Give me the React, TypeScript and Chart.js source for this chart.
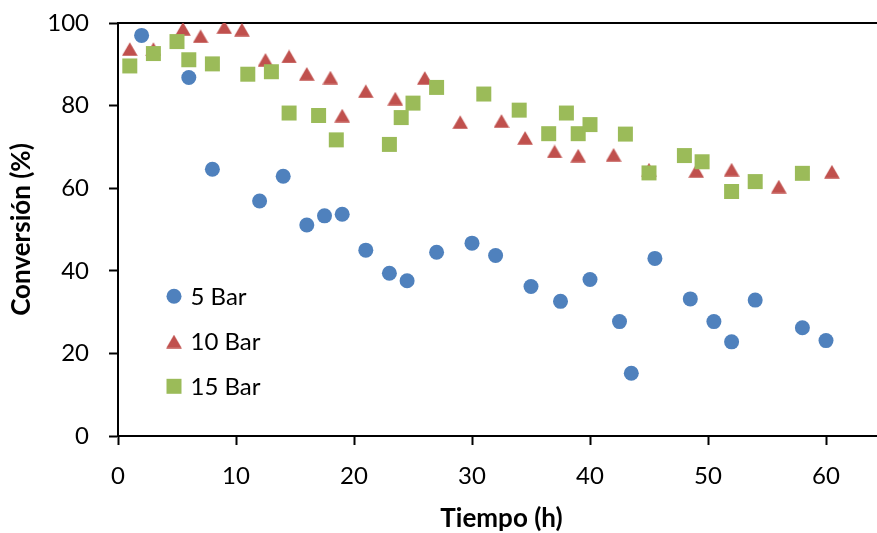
import React, { useEffect, useRef } from "react";
import { Chart, registerables } from "chart.js";
import { drawPoint } from "chart.js/helpers";

Chart.register(...registerables);

// ---- Data ----
const time5 = [2, 6, 8, 12, 14, 16, 17.5, 19, 21, 23, 24.5, 27, 30, 32, 35, 37.5, 40, 42.5, 43.5, 45.5, 48.5, 50.5, 52, 54, 58, 60];
const conv5 = [97.0, 86.8, 64.6, 56.9, 62.9, 51.1, 53.3, 53.7, 45.0, 39.4, 37.6, 44.5, 46.7, 43.7, 36.2, 32.6, 37.9, 27.7, 15.2, 43.0, 33.2, 27.7, 22.8, 32.9, 26.2, 23.1];

const time10 = [1, 3, 5.5, 7, 9, 10.5, 12.5, 14.5, 16, 18, 19, 21, 23.5, 26, 29, 32.5, 34.5, 37, 39, 42, 45, 49, 52, 56, 60.5];
const conv10 = [93.7, 93.7, 98.6, 96.8, 99.0, 98.4, 91.1, 91.9, 87.7, 86.8, 77.6, 83.5, 81.7, 86.7, 76.0, 76.3, 72.2, 68.9, 67.9, 68.1, 64.5, 64.2, 64.5, 60.4, 64.0];

const time15 = [1, 3, 5, 6, 8, 11, 13, 14.5, 17, 18.5, 23, 24, 25, 27, 31, 34, 36.5, 38, 39, 40, 43, 45, 48, 49.5, 52, 54, 58];
const conv15 = [89.6, 92.6, 95.5, 91.1, 90.1, 87.6, 88.2, 78.2, 77.6, 71.7, 70.6, 77.1, 80.6, 84.4, 82.8, 78.9, 73.2, 78.2, 73.2, 75.4, 73.1, 63.7, 67.9, 66.4, 59.2, 61.6, 63.6];

const seriesLabels = ["5 Bar", "10 Bar", "15 Bar"];
const seriesColors = ["#4F81BD", "#C0504D", "#9BBB59"];
const xTickValues = [0, 10, 20, 30, 40, 50, 60];
const xTitle = "Tiempo (h)";
const yTitle = "Conversión (%)";

const FONT = "Lato, 'Open Sans', sans-serif";

function makeTriangle(color: string): HTMLCanvasElement {
  const c = document.createElement("canvas");
  c.width = 16;
  c.height = 14;
  const g = c.getContext("2d")!;
  g.fillStyle = color;
  g.beginPath();
  g.moveTo(8, 0.3);
  g.lineTo(15.8, 13.7);
  g.lineTo(0.2, 13.7);
  g.closePath();
  g.fill();
  return c;
}

const toPts = (xs: number[], ys: number[]) => xs.map((x, i) => ({ x, y: ys[i] }));

export default function App() {
  const ref = useRef<HTMLCanvasElement | null>(null);

  useEffect(() => {
    if (!ref.current) return;
    const tri = makeTriangle(seriesColors[1]);
    const styles: any[] = ["circle", tri, "rect"];
    const radii = [7.5, 8, 10.6];

    const legendPlugin = {
      id: "insideLegend",
      afterDraw(chart: any) {
        const ctx = chart.ctx;
        const area = chart.chartArea;
        const x0 = area.left + 56;
        const ys = [296.3, 341.5, 386.3];
        ctx.save();
        seriesLabels.forEach((lab, i) => {
          ctx.fillStyle = seriesColors[i];
          ctx.strokeStyle = seriesColors[i];
          drawPoint(ctx, { pointStyle: styles[i], radius: radii[i], rotation: 0, borderWidth: 0 } as any, x0, ys[i]);
          ctx.fillStyle = "#000";
          ctx.font = `24px ${FONT}`;
          ctx.textAlign = "left";
          ctx.textBaseline = "alphabetic";
          ctx.fillText(lab, x0 + 16.5, ys[i] + 8.7);
        });
        ctx.restore();
      },
    };

    const pts = [toPts(time5, conv5), toPts(time10, conv10), toPts(time15, conv15)];

    const chart = new Chart(ref.current, {
      type: "scatter",
      data: {
        datasets: pts.map((d, i) => ({
          label: seriesLabels[i],
          data: d,
          backgroundColor: seriesColors[i],
          borderColor: seriesColors[i],
          pointStyle: styles[i],
          pointRadius: radii[i],
          pointHoverRadius: radii[i],
          pointBorderWidth: 0,
          order: 2 - i,
        })),
      },
      options: {
        responsive: false,
        animation: false,
        layout: { padding: { top: 23, right: 15, bottom: 0, left: 0 } },
        plugins: {
          legend: { display: false },
          tooltip: { enabled: false },
        },
        scales: {
          x: {
            type: "linear",
            position: "bottom",
            min: 0,
            max: 65,
            afterBuildTicks: (s: any) => {
              s.ticks = xTickValues.map((v) => ({ value: v }));
            },
            afterFit: (s: any) => {
              s.height = 97;
              s.paddingLeft = 0;
              s.paddingRight = 0;
            },
            ticks: {
              stepSize: 10,
              color: "#000",
              font: { family: FONT, size: 24 },
              padding: 17,
              maxRotation: 0,
            },
            grid: {
              drawOnChartArea: false,
              drawTicks: true,
              tickLength: 9,
              tickWidth: 2,
              tickColor: "#000",
            },
            border: { display: true, color: "#000", width: 2 },
            title: {
              display: true,
              text: xTitle,
              color: "#000",
              font: { family: FONT, size: 26, weight: "bold", lineHeight: 1.1 },
              padding: { top: 0, bottom: 0 },
            },
          },
          xTop: {
            type: "linear",
            position: "top",
            min: 0,
            max: 65,
            afterFit: (s: any) => {
              s.height = 0;
              s.paddingLeft = 0;
              s.paddingRight = 0;
            },
            ticks: { display: false },
            grid: { display: false, drawTicks: false },
            border: { display: true, color: "#000", width: 2 },
          },
          y: {
            type: "linear",
            min: 0,
            max: 100,
            afterFit: (s: any) => {
              s.width = 118;
              s.paddingTop = 0;
              s.paddingBottom = 0;
            },
            ticks: {
              stepSize: 20,
              color: "#000",
              font: { family: FONT, size: 24 },
              padding: 20,
            },
            grid: {
              drawOnChartArea: false,
              drawTicks: true,
              tickLength: 9,
              tickWidth: 2,
              tickColor: "#000",
            },
            border: { display: true, color: "#000", width: 2 },
            title: {
              display: true,
              text: yTitle,
              color: "#000",
              font: { family: FONT, size: 26, weight: "bold", lineHeight: 1.1 },
              padding: { top: 7, bottom: 0 },
            },
          },
        },
      } as any,
      plugins: [legendPlugin],
    });
    return () => chart.destroy();
  }, []);

  return (
    <div style={{ position: "absolute", left: 0, top: 0, width: 877, height: 533, overflow: "hidden", background: "#fff" }}>
      <canvas ref={ref} width={900} height={533} style={{ display: "block" }} />
    </div>
  );
}
